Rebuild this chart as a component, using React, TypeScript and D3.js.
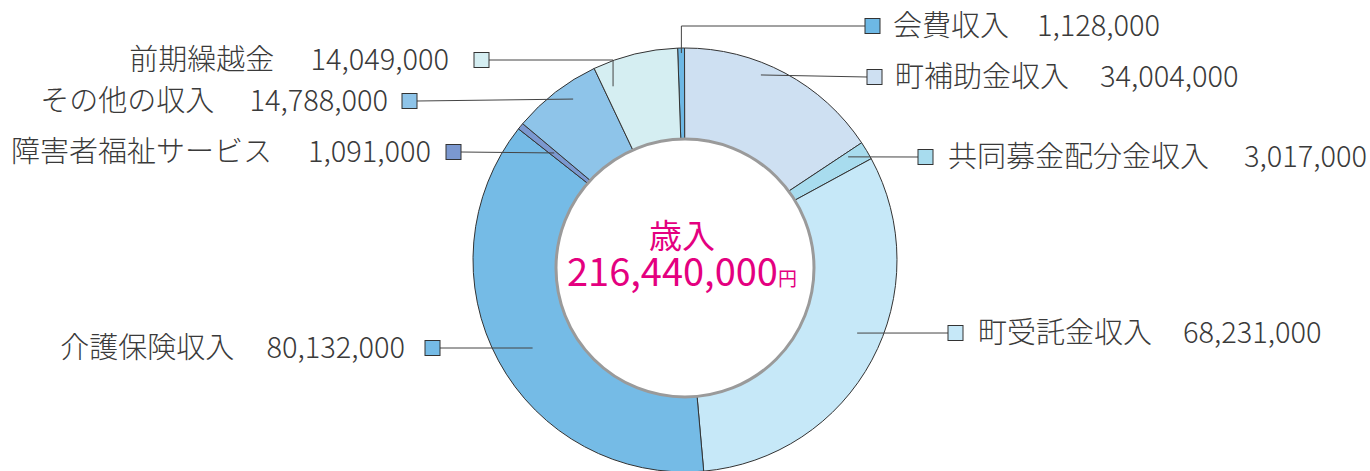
import React from "react";
import * as d3 from "d3";

const categories = ["会費収入", "町補助金収入", "共同募金配分金収入", "町受託金収入", "介護保険収入", "障害者福祉サービス", "その他の収入", "前期繰越金"];
const values = [1128000, 34004000, 3017000, 68231000, 80132000, 1091000, 14788000, 14049000];
const colors = ["#6db8e5", "#cee0f2", "#a8dcee", "#c6e8f8", "#75bbe6", "#7b98d0", "#8ec4e9", "#d5eef2"];
const totalLabel = "216,440,000";

// label layout: side, square left x, square center y, text gap, anchor polar (deg, radius)
const labelSide = ["right", "right", "right", "right", "left", "left", "left", "left"];
const squareX = [865, 867, 918, 948, 425, 446, 402, 474];
const squareY = [26, 77, 157, 333, 348, 152, 101, 60];
const textGap = [13, 13, 15, 15, 20, 15, 14, 25];
const numberGap = [28, 31, 35, 31, 32, 36, 35, 36];
const anchorDeg = [-1.0, 22.3, 57.7, 113, 240, 309.3, 325.2, 337.5];
const anchorR = [207, 200, 193, 187, 176, 169, 196, 188];

const W = 1370, H = 471;
const CX = 685, CY = 260, R = 212;
const ICX = 685, ICY = 268, IR = 129;
const SQ = 15;
const FONT = "'Noto Sans CJK JP', 'Noto Sans', sans-serif";

export default function App() {
  const deg = Math.PI / 180;
  const pie = d3.pie<number>().sort(null).value((d) => d).startAngle(-2 * deg).endAngle(358 * deg);
  const arcs = pie(values);
  const arc = d3.arc<d3.PieArcDatum<number>>().innerRadius(100).outerRadius(R);
  const fmt = d3.format(",");

  return (
    <svg width={W} height={H} style={{ position: "absolute", left: 0, top: 0 }}>
      <rect width={W} height={H} fill="#fff" />
      <g transform={`translate(${CX},${CY})`}>
        {arcs.map((a, i) => (
          <path key={i} d={arc(a) || ""} fill={colors[i]} stroke="#333" strokeWidth={1} />
        ))}
      </g>
      <circle cx={ICX} cy={ICY} r={IR} fill="#fff" stroke="#9a9a9a" strokeWidth={3} />
      {categories.map((c, i) => {
        const ax = CX + anchorR[i] * Math.sin(anchorDeg[i] * deg);
        const ay = CY - anchorR[i] * Math.cos(anchorDeg[i] * deg);
        const sy = squareY[i];
        const right = labelSide[i] === "right";
        const sx = squareX[i];
        const lx = right ? sx : sx + SQ;
        const pts = Math.abs(ay - sy) > 8 ? `${lx},${sy} ${ax},${sy} ${ax},${ay}` : `${lx},${sy} ${ax},${ay}`;
        const tx = right ? sx + SQ + textGap[i] : sx - textGap[i];
        return (
          <g key={c}>
            <polyline points={pts} fill="none" stroke="#444" strokeWidth={1} />
            <rect x={sx} y={sy - SQ / 2} width={SQ} height={SQ} fill={colors[i]} stroke="#333" strokeWidth={1} />
            <text x={tx} y={sy + 10} fontFamily={FONT} fontSize={29} fontWeight={300} fill="#3a3a3a" textAnchor={right ? "start" : "end"}>
              <tspan>{c}</tspan>
              <tspan dx={numberGap[i]}>{fmt(values[i])}</tspan>
            </text>
          </g>
        );
      })}
      <text x={682} y={248} fontFamily={FONT} fontSize={33} fill="#e4007f" textAnchor="middle">歳入</text>
      <text x={682} y={286} fontFamily={FONT} fill="#e4007f" textAnchor="middle">
        <tspan fontSize={38}>{totalLabel}</tspan>
        <tspan fontSize={19}>円</tspan>
      </text>
    </svg>
  );
}
